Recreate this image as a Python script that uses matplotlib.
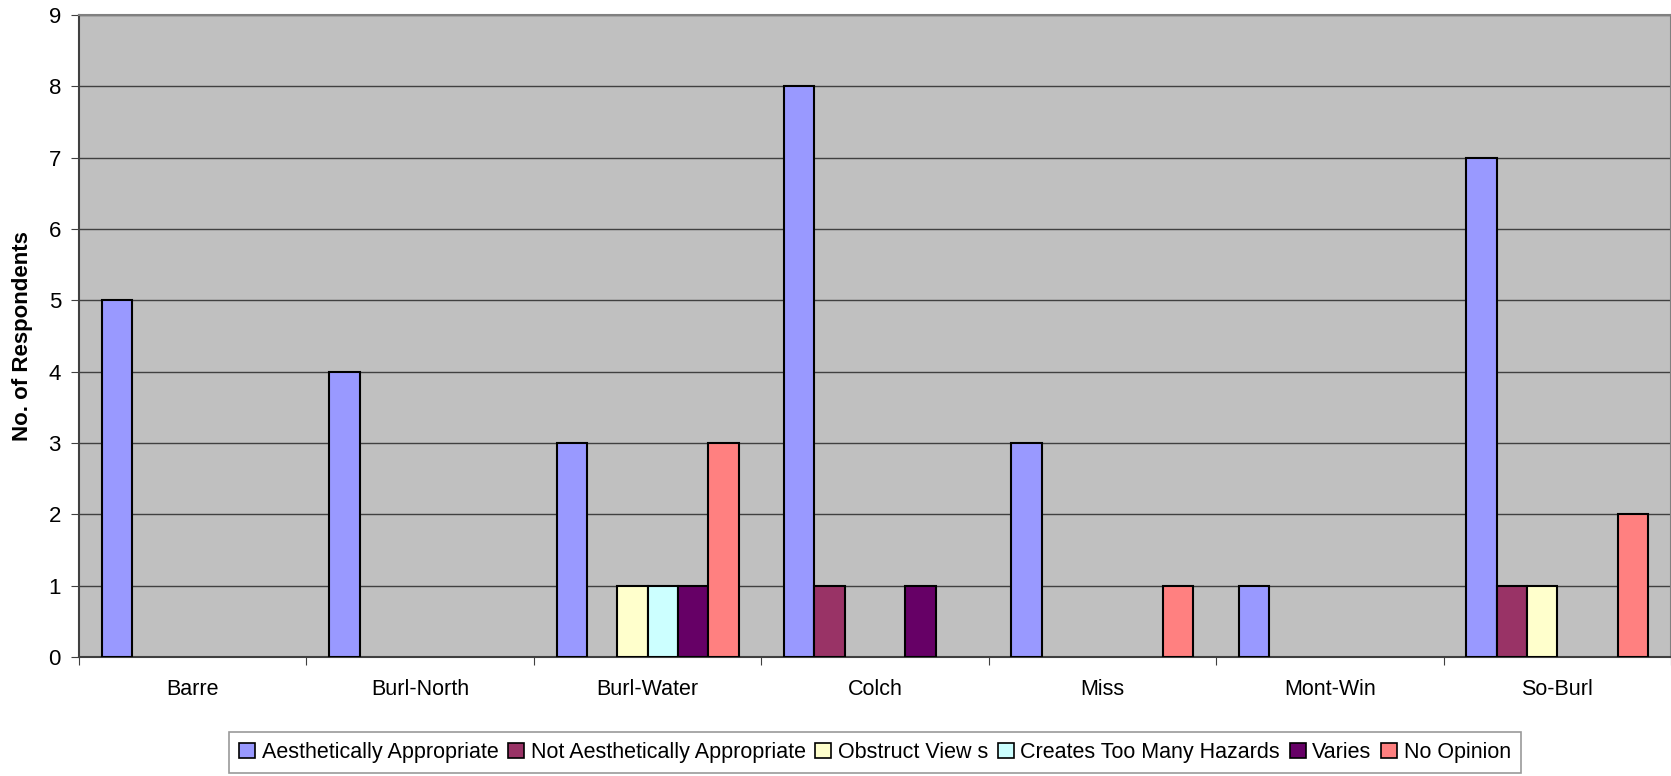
import numpy as np
import matplotlib.pyplot as plt

plt.rcParams['font.family'] = ['Liberation Sans', 'DejaVu Sans']

# Data
categories = ['Barre', 'Burl-North', 'Burl-Water', 'Colch', 'Miss', 'Mont-Win', 'So-Burl']
series_names = ['Aesthetically Appropriate', 'Not Aesthetically Appropriate', 'Obstruct View s',
                'Creates Too Many Hazards', 'Varies', 'No Opinion']
aesthetic = [5, 4, 3, 8, 3, 1, 7]
not_aesthetic = [0, 0, 0, 1, 0, 0, 1]
obstruct = [0, 0, 1, 0, 0, 0, 1]
hazards = [0, 0, 1, 0, 0, 0, 0]
varies = [0, 0, 1, 1, 0, 0, 0]
no_opinion = [0, 0, 3, 0, 1, 0, 2]
colors = ['#9999FF', '#993366', '#FFFFCC', '#CCFFFF', '#660066', '#FF8080']

values = [aesthetic, not_aesthetic, obstruct, hazards, varies, no_opinion]

fig = plt.figure(figsize=(16.71, 7.76), dpi=100)
ax = fig.add_axes([0.0473, 0.1534, 0.9527, 0.8273])
ax.set_facecolor('#C0C0C0')

x = np.arange(len(categories))
bw = 1 / 7.5
for i, (name, vals, c) in enumerate(zip(series_names, values, colors)):
    vals = np.array(vals, dtype=float)
    pos = x + 0.1 + bw * (i + 0.5)
    # skip zero-height bars so no edge line is drawn on the axis
    mask = vals > 0
    ax.bar(pos[mask], vals[mask], width=bw, color=c, edgecolor='black',
           linewidth=1.5, zorder=3)
    ax.bar([np.nan], [np.nan], color=c, edgecolor='black', linewidth=1.2, label=name)

ax.set_xlim(0, len(categories))
ax.set_ylim(0, 9)
ax.set_yticks(range(10))
ax.yaxis.grid(True, color='#404040', linewidth=1.0, zorder=1)

ax.set_xticks(np.arange(len(categories) + 1))
ax.set_xticklabels([])
ax.set_xticks(x + 0.5, minor=True)
ax.set_xticklabels(categories, minor=True, fontsize=15.5)
ax.tick_params(axis='x', which='minor', length=0, pad=16)
ax.tick_params(axis='x', which='major', length=6, color='#404040')
ax.tick_params(axis='y', length=6, color='#404040', labelsize=16, pad=7)

for s in ['left', 'bottom']:
    ax.spines[s].set_color('#404040')
    ax.spines[s].set_linewidth(1.5)
for s in ['top', 'right']:
    ax.spines[s].set_color('#808080')
    ax.spines[s].set_linewidth(1.5)

ax.set_ylabel('No. of Respondents', fontsize=16, fontweight='bold')
ax.yaxis.set_label_coords(-(79 - 33) / 1592, 0.5)

leg = fig.legend(loc='center', bbox_to_anchor=(0.5236, 0.0303), ncol=6, fontsize=15.5,
                 frameon=True, fancybox=False, edgecolor='#808080', handlelength=0.75,
                 handleheight=0.75, handletextpad=0.3, columnspacing=0.45, borderpad=0.45)
leg.get_frame().set_linewidth(1.2)

fig.savefig('out.png', dpi=100)
